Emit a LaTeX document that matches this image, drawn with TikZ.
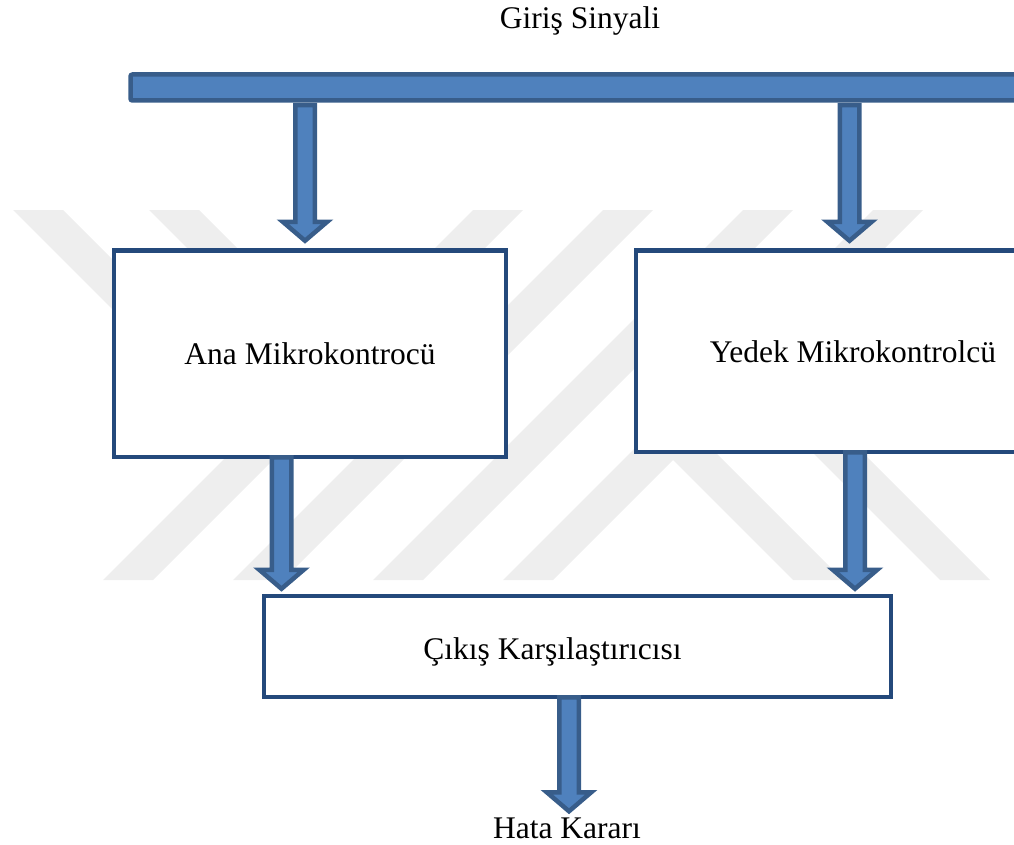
\documentclass[tikz,border=0pt]{standalone}
\usepackage{fontspec}
\setmainfont{Liberation Serif}
\usetikzlibrary{calc}
\definecolor{arrfill}{HTML}{4F81BD}
\definecolor{arrline}{HTML}{385D8A}
\definecolor{boxline}{HTML}{24497B}
\definecolor{wm}{HTML}{EEEEEE}
\tikzset{
  txt/.style={font=\fontsize{31.5pt}{38pt}\selectfont, inner sep=0pt},
  boxnode/.style={draw=boxline, line width=4.5pt, fill=white, rectangle, inner sep=0pt,
    text height=21.5pt, text depth=0pt, font=\fontsize{31.5pt}{38pt}\selectfont},
  barnode/.style={draw=arrline, fill=arrfill, line width=4.5pt, rounded corners=2pt, inner sep=0pt},
  blockarr/.style={draw=arrline, fill=arrfill, line width=4.5pt, line join=miter},
  wmstripe/.style={fill=wm, draw=none},
}
\newcommand\blockarrow[2]{%
  \path[blockarr] let \p1=(#1), \p2=(#2) in
   (\x1-9.75pt,\y1) -- (\x1+9.75pt,\y1) -- (\x1+9.75pt,\y2+19pt) -- (\x1+22.25pt,\y2+19pt)
   -- (\x1,\y2) -- (\x1-22.25pt,\y2+19pt) -- (\x1-9.75pt,\y2+19pt) -- cycle;}
\begin{document}
\begin{tikzpicture}[x=1pt,y=-1pt]
\useasboundingbox (0,0) rectangle (1014,845);
% watermark
\foreach \a in {473,603,743,873}
  \fill[wmstripe] (\a,210) -- (\a+50,210) -- (\a-320,580) -- (\a-370,580) -- cycle;
\fill[wmstripe] (13,210) -- (63,210) -- (253,400) -- (203,400) -- cycle;
\fill[wmstripe] (149,210) -- (199,210) -- (389,400) -- (339,400) -- cycle;
\fill[wmstripe] (653,440) -- (703,440) -- (843,580) -- (793,580) -- cycle;
\fill[wmstripe] (800,440) -- (850,440) -- (990,580) -- (940,580) -- cycle;
% input bar
\node[barnode, minimum width=900pt, minimum height=26pt] (bar) at (580.5,87.5) {};
% boxes
\node[boxnode, minimum width=392pt, minimum height=206.5pt] (A) at (310,353.75) {Ana Mikrokontrocü};
\node[boxnode, minimum width=434pt, minimum height=201.5pt] (B) at (853,351.25) {Yedek Mikrokontrolcü};
\node[boxnode, minimum width=627pt, minimum height=101pt] (C) at (577.5,646.5) {\hspace*{-50pt}\raisebox{-2.5pt}{Çıkış Karşılaştırıcısı}};
% texts
\node[txt, anchor=base] (gs) at (580,29) {Giriş Sinyali};
\node[txt, anchor=base] (hk) at (567,838) {Hata Kararı};
% arrow anchors
\coordinate (c1) at ($(bar.south -| A.north)+(-5,2.5)$);
\coordinate (c2) at ($(bar.south -| B.north)+(-3.5,2.5)$);
\coordinate (c3) at ($(A.south)+(-28.5,-2)$);
\coordinate (c4) at ($(B.south)+(2,-2)$);
\coordinate (c5) at ($(C.south)+(-8.5,-2)$);
\coordinate (e5) at ($(c5)+(0,114)$);
\blockarrow{c1}{$(c1 |- A.north)+(0,-7.5)$}
\blockarrow{c2}{$(c2 |- B.north)+(0,-7.5)$}
\blockarrow{c3}{$(c3 |- C.north)+(0,-5)$}
\blockarrow{c4}{$(c4 |- C.north)+(0,-5)$}
\blockarrow{c5}{e5}
\end{tikzpicture}
\end{document}
